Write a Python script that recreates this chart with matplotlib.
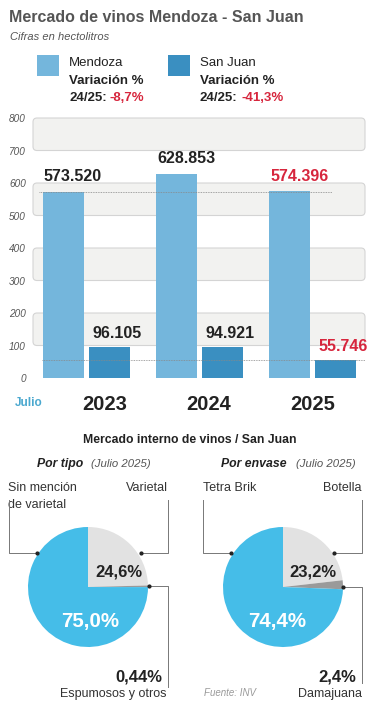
"""Mercado de vinos Mendoza - San Juan: bar chart + two pies"""

import matplotlib
matplotlib.use('Agg')
import matplotlib.patches
import matplotlib.pyplot as plt

plt.rcParams['font.family'] = ['Liberation Sans', 'DejaVu Sans']

W, H = 371, 728

YEARS = ['2023', '2024', '2025']
MENDOZA = [573.520, 628.853, 574.396]
SAN_JUAN = [96.105, 94.921, 55.746]
Y_TICKS = [0, 100, 200, 300, 400, 500, 600, 700, 800]
BANDS = [(100, 200), (300, 400), (500, 600), (700, 800)]

TIPO_LABELS = ['Varietal', 'Espumosos y otros', 'Sin mención\nde varietal']
TIPO_SHARES = [24.6, 0.44, 75.0]
ENVASE_LABELS = ['Botella', 'Damajuana', 'Tetra Brik']
ENVASE_SHARES = [23.2, 2.4, 74.4]

C_MZA = '#74b6dc'
C_SJ = '#3a8fc1'
C_RED = '#d7263d'
C_BLUE_PIE = '#45bde8'
C_GRAY_PIE = '#e2e2e2'
C_DARK_PIE = '#9a9a9a'
C_TXT = '#222222'
C_GREY_TXT = '#555555'


def _fx(px):
    return px / W


def _fy(py):
    return 1 - py / H


def _txt(x, y, s, **kwargs):
    kwargs.setdefault('color', C_TXT)
    plt.gcf().text(_fx(x), _fy(y), s, **kwargs)


def _pix_axes(zorder):
    ax = plt.gcf().add_axes([0, 0, 1, 1], zorder=zorder)
    ax.set_xlim(0, W)
    ax.set_ylim(H, 0)
    ax.axis('off')
    ax.patch.set_alpha(0)
    return ax


fig = plt.figure(figsize=(W / 100, H / 100), dpi=100)
fig.patch.set_facecolor('white')

back = _pix_axes(0)
front = _pix_axes(5)

# header
_txt(9, 17, 'Mercado de vinos Mendoza - San Juan', fontsize=11.5,
     fontweight='bold', color=C_GREY_TXT, va='center')
_txt(10, 37, 'Cifras en hectolitros', fontsize=8, style='italic',
     color=C_GREY_TXT, va='center')

# legend
for x0, col, name, var in [(37, C_MZA, 'Mendoza', '-8,7%'),
                           (168, C_SJ, 'San Juan', '-41,3%')]:
    back.add_patch(matplotlib.patches.Rectangle(
        (x0, 55), 22, 21, facecolor=col, edgecolor='none'))
    _txt(x0 + 32, 63, name, fontsize=9.5, va='center')
    _txt(x0 + 32, 81, 'Variación %', fontsize=9.5, fontweight='bold',
         va='center')
    _txt(x0 + 32, 98, '24/25:', fontsize=9.5, fontweight='bold',
         va='center')
    _txt(x0 + 73, 98, var, fontsize=9.5, fontweight='bold', va='center',
         color=C_RED)

# bar chart
Y0_PX, Y800_PX = 378, 118
AX_L, AX_R = 33, 365
GROUP_PX = 113.25
X0_PX = 86
ax = fig.add_axes([_fx(AX_L), _fy(Y0_PX), _fx(AX_R - AX_L),
                   (Y0_PX - Y800_PX) / H], zorder=1)
ax.patch.set_alpha(0)
ax.set_xlim((AX_L - X0_PX) / GROUP_PX, (AX_R - X0_PX) / GROUP_PX)
ax.set_ylim(0, 800)
for s in ax.spines.values():
    s.set_visible(False)
ax.set_xticks([])
ax.set_yticks(Y_TICKS)
ax.set_yticklabels([str(t) for t in Y_TICKS], fontsize=7.2, style='italic',
                   color=C_GREY_TXT)
ax.tick_params(axis='y', length=0, pad=5)


def _val_px(v):
    return Y0_PX - v * (Y0_PX - Y800_PX) / 800


for lo, hi in BANDS:
    back.add_patch(matplotlib.patches.FancyBboxPatch(
        (AX_L, _val_px(hi)), AX_R - AX_L, _val_px(lo) - _val_px(hi),
        boxstyle='round,pad=0,rounding_size=4',
        facecolor='#f2f2f0', edgecolor='#d4d4d4', linewidth=0.8))

BAR_W = 41 / GROUP_PX
OFF = 23 / GROUP_PX
xs = list(range(len(YEARS)))
ax.bar([x - OFF for x in xs], MENDOZA, BAR_W, color=C_MZA, zorder=2)
ax.bar([x + OFF for x in xs], SAN_JUAN, BAR_W, color=C_SJ, zorder=2)

ax.hlines(MENDOZA[0], (39 - X0_PX) / GROUP_PX, (332 - X0_PX) / GROUP_PX,
          colors='#888888', linestyles=(0, (1, 1)), linewidth=0.6, zorder=3)
ax.hlines(SAN_JUAN[2], (42 - X0_PX) / GROUP_PX, (365 - X0_PX) / GROUP_PX,
          colors='#888888', linestyles=(0, (1, 1)), linewidth=0.6, zorder=3)


def _fmt(v):
    return f'{v:.3f}'


for i, x in enumerate(xs):
    col = C_RED if i == len(xs) - 1 else C_TXT
    ax.annotate(_fmt(MENDOZA[i]), (x - OFF, MENDOZA[i]),
                xytext=(7, 5.5), textcoords='offset points', ha='center',
                va='bottom', fontsize=11.5, fontweight='bold', color=col,
                annotation_clip=False)
    ax.annotate(_fmt(SAN_JUAN[i]), (x + OFF, SAN_JUAN[i]),
                xytext=(5.5, 4.5), textcoords='offset points', ha='center',
                va='bottom', fontsize=11.5, fontweight='bold', color=col,
                annotation_clip=False)

_txt(15, 403, 'Julio', fontsize=8.5, fontweight='bold', color='#4aa8cf',
     va='center')
for year, xp in zip(YEARS, [104.5, 208.5, 313]):
    _txt(xp, 404, year, fontsize=14.5, fontweight='bold', ha='center',
         va='center')

# pies
_txt(189.5, 440, 'Mercado interno de vinos / San Juan', fontsize=8.8,
     fontweight='bold', ha='center', va='center')
_txt(37, 464, 'Por tipo', fontsize=8.8, fontweight='bold', style='italic',
     va='center')
_txt(91, 464, '(Julio 2025)', fontsize=8.2, style='italic',
     color=C_GREY_TXT, va='center')
_txt(221, 464, 'Por envase', fontsize=8.8, fontweight='bold', style='italic',
     va='center')
_txt(296, 464, '(Julio 2025)', fontsize=8.2, style='italic',
     color=C_GREY_TXT, va='center')

R = 60
for cx, shares in [(88, TIPO_SHARES), (283, ENVASE_SHARES)]:
    pax = fig.add_axes([_fx(cx - R), _fy(587 + R), 2 * R / W, 2 * R / H],
                       zorder=1)
    pax.pie(shares, colors=[C_GRAY_PIE, C_DARK_PIE, C_BLUE_PIE],
            startangle=90, counterclock=False, radius=1,
            wedgeprops={'linewidth': 0})
    pax.set_xlim(-1, 1)
    pax.set_ylim(-1, 1)
    pax.axis('off')


def _pct(v, nd=1):
    return f'{v:.{nd}f}%'.replace('.', ',')


_txt(119, 572, _pct(TIPO_SHARES[0]), fontsize=12,
     fontweight='bold', ha='center', va='center')
_txt(90, 622, _pct(TIPO_SHARES[2]), fontsize=14.8,
     fontweight='bold', ha='center', va='center', color='white')
_txt(313, 572, _pct(ENVASE_SHARES[0]), fontsize=12,
     fontweight='bold', ha='center', va='center')
_txt(277, 621, _pct(ENVASE_SHARES[2]), fontsize=14.8,
     fontweight='bold', ha='center', va='center', color='white')
_txt(162, 677, _pct(TIPO_SHARES[1], 2), fontsize=12,
     fontweight='bold', ha='right', va='center')
_txt(356, 677, _pct(ENVASE_SHARES[1]), fontsize=12,
     fontweight='bold', ha='right', va='center')

_txt(8, 496.5, TIPO_LABELS[2], fontsize=9, va='center', color='#333333',
     linespacing=1.45)
_txt(168, 488, TIPO_LABELS[0], fontsize=9, ha='right', va='center',
     color='#333333')
_txt(167, 694, TIPO_LABELS[1], fontsize=9, ha='right', va='center',
     color='#333333')
_txt(203, 488, ENVASE_LABELS[2], fontsize=9, va='center', color='#333333')
_txt(362, 488, ENVASE_LABELS[0], fontsize=9, ha='right', va='center',
     color='#333333')
_txt(362, 694, ENVASE_LABELS[1], fontsize=9, ha='right', va='center',
     color='#333333')
_txt(204, 693, 'Fuente: INV', fontsize=7, style='italic', color='#999999',
     va='center')

LEADERS = [
    [(9.3, 500), (9.3, 552.7), (37.3, 552.7)],
    [(167.7, 500), (167.7, 552.7), (140.7, 552.7)],
    [(167.7, 686.7), (167.7, 586), (149.3, 586)],
    [(203.3, 500), (203.3, 552.7), (231, 552.7)],
    [(362.3, 500), (362.3, 552.7), (334.3, 552.7)],
    [(362.3, 683), (362.3, 587.3), (343.3, 587.3)],
]
for pts in LEADERS:
    front.plot([p[0] for p in pts], [p[1] for p in pts], color='#777777',
               linewidth=0.7)
    front.plot(pts[-1][0], pts[-1][1], 'o', color='#222222', markersize=2)

plt.savefig('out.png', dpi=100)
